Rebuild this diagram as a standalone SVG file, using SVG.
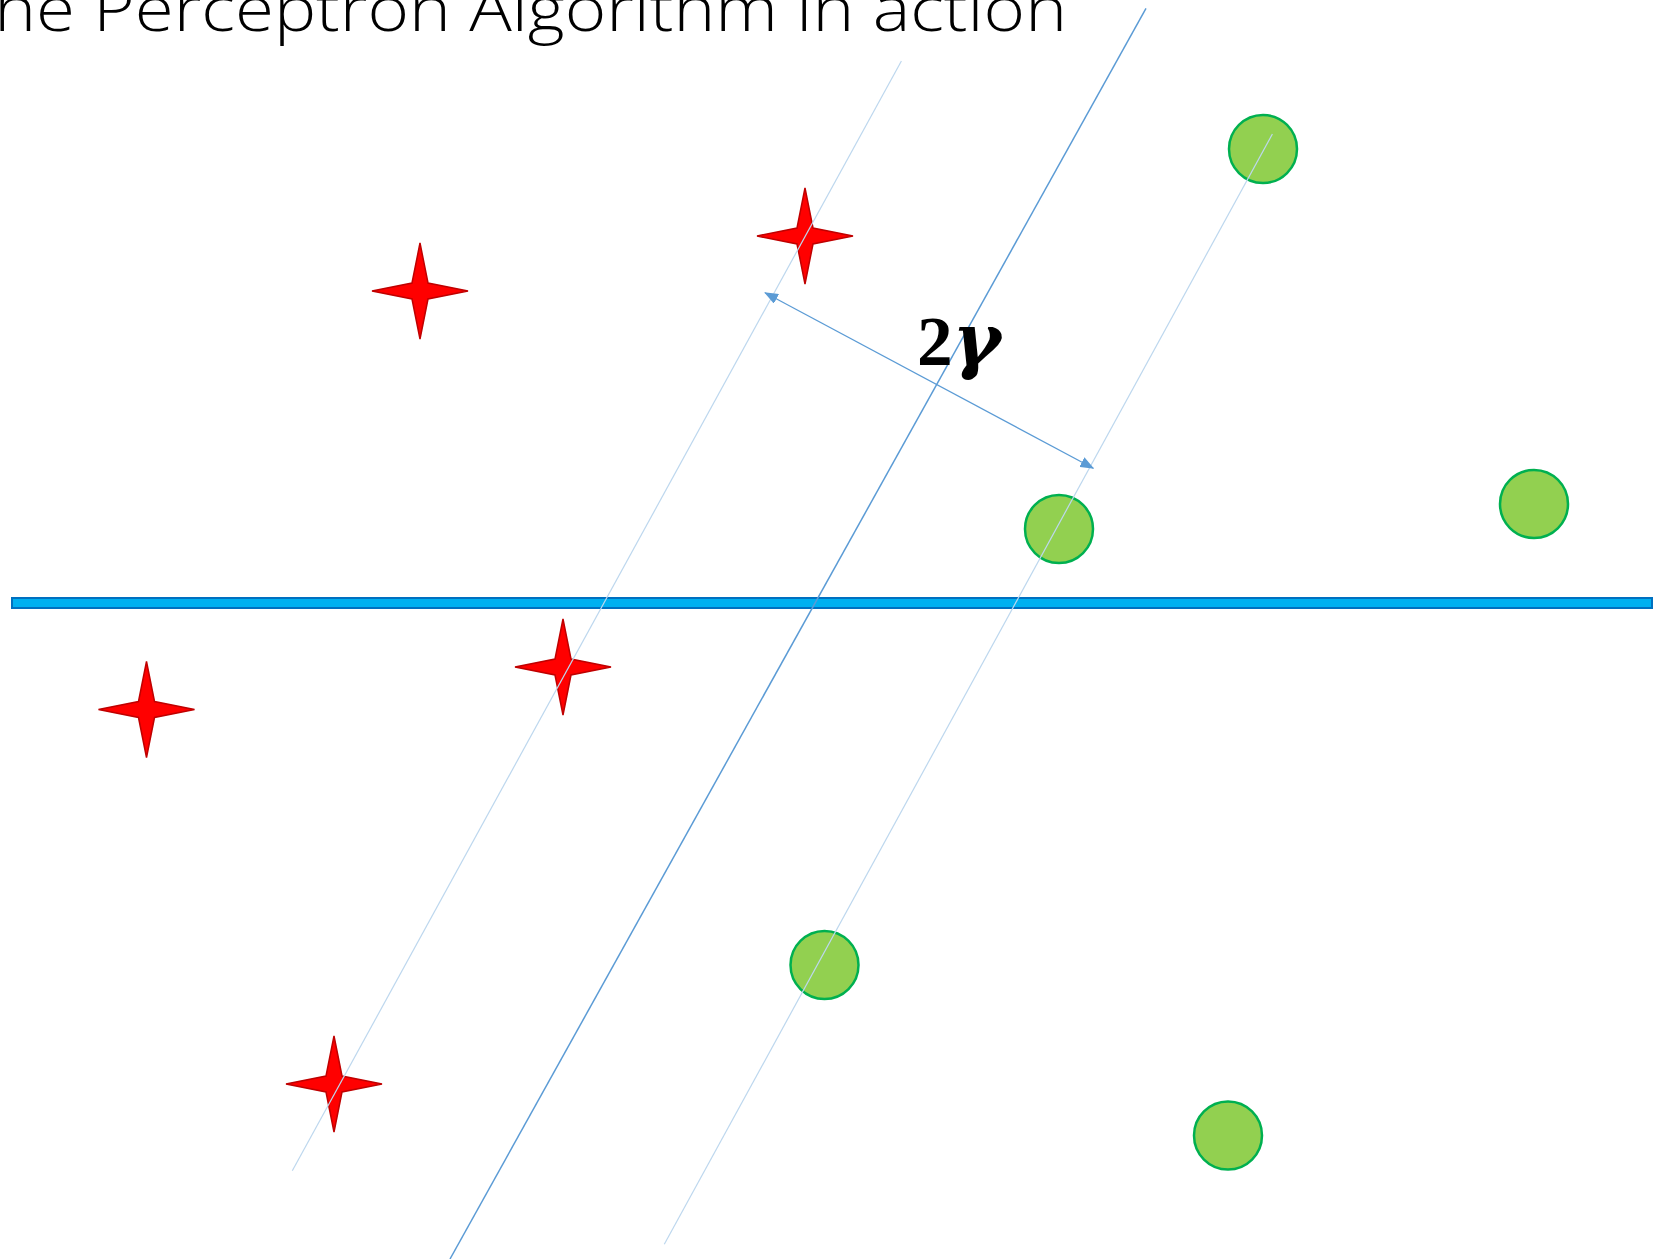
<svg xmlns="http://www.w3.org/2000/svg" width="1653" height="1259" viewBox="0 0 1653 1259">
<style>
.title{font-family:"Open Sans","Liberation Sans",sans-serif;font-weight:300;font-size:62px;fill:#000}
.star{fill:#FF0000;stroke:#C00000;stroke-width:1.5;stroke-linejoin:miter}
.dot{fill:#92D050;stroke:#00B050;stroke-width:2.5}
.margin{stroke:#BDD7EE;stroke-width:1.2;fill:none}
.sep{stroke:#5B9BD5;stroke-width:1.5;fill:none}
.dim{stroke:#5B9BD5;stroke-width:1.2;fill:none}
.lbl{font-family:"Liberation Serif",serif;font-weight:bold;font-size:70px;fill:#000}
.gam{font-family:"DejaVu Serif",serif;font-weight:bold;font-style:italic;font-size:72px}
</style>
<defs>
<polygon id="star4" points="0,-48 8,-8 48,0 8,8 0,48 -8,8 -48,0 -8,-8"/>
<marker id="ah" viewBox="0 0 14 11" refX="13" refY="5.5" markerWidth="14" markerHeight="11" markerUnits="userSpaceOnUse" orient="auto-start-reverse">
<path d="M0,0 L14,5.5 L0,11 Z" fill="#5B9BD5"/>
</marker>
</defs>
<rect width="1653" height="1259" fill="#FFFFFF"/>
<text class="title" x="-43" y="31" textLength="1110" lengthAdjust="spacingAndGlyphs">The Perceptron Algorithm in action</text>
<g id="boundary">
<rect x="12" y="598" width="1640" height="10" fill="#00B0F0" stroke="#0070C0" stroke-width="2"/>
</g>
<g id="star1"><use href="#star4" class="star" x="420" y="291"/></g>
<g id="star2"><use href="#star4" class="star" x="805" y="236"/></g>
<g id="star3"><use href="#star4" class="star" x="563" y="667"/></g>
<g id="star4n"><use href="#star4" class="star" x="146.5" y="709.5"/></g>
<g id="star5"><use href="#star4" class="star" x="334" y="1084"/></g>
<g id="circle1"><circle class="dot" cx="1263" cy="149" r="34"/></g>
<g id="circle2"><circle class="dot" cx="1059" cy="529" r="34"/></g>
<g id="circle3"><circle class="dot" cx="1534" cy="504" r="34"/></g>
<g id="circle4"><circle class="dot" cx="824.5" cy="965" r="34"/></g>
<g id="circle5"><circle class="dot" cx="1228" cy="1135.5" r="34"/></g>
<g id="connectors">
<line class="margin" x1="901.4" y1="61" x2="292.3" y2="1170.7"/>
<line class="sep" x1="1146" y1="8.4" x2="450" y2="1259"/>
<line class="margin" x1="1272.4" y1="134" x2="664.3" y2="1244.3"/>
<line class="dim" x1="765" y1="292.7" x2="1093.3" y2="468.3" marker-start="url(#ah)" marker-end="url(#ah)"/>
</g>
<g id="label">
<text class="lbl" x="917" y="365" textLength="84" lengthAdjust="spacingAndGlyphs">2<tspan class="gam">γ</tspan></text>
</g>
</svg>
